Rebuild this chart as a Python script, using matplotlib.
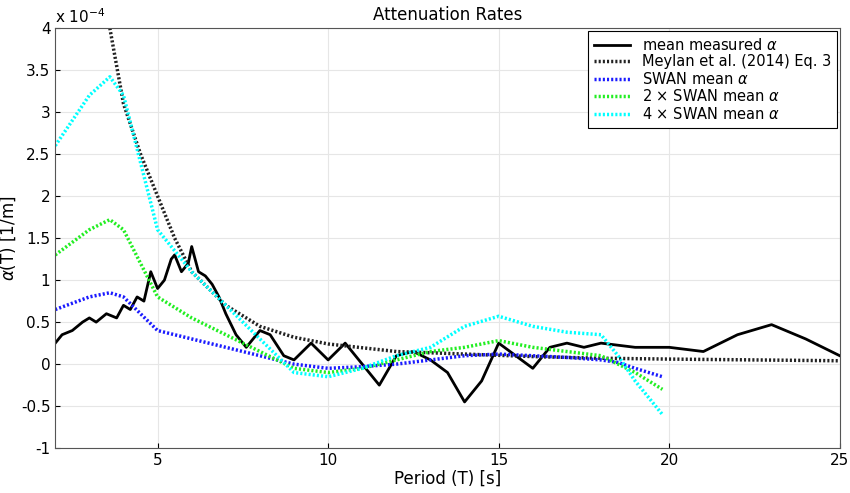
import matplotlib
matplotlib.use("Agg")
import matplotlib.pyplot as plt

# values in units of 1e-4 1/m
meas_T = [2, 2.2, 2.5, 2.8, 3, 3.2, 3.5, 3.8, 4, 4.2, 4.4, 4.6, 4.8, 5, 5.2, 5.4, 5.5, 5.7, 5.9, 6,
          6.2, 6.4, 6.6, 6.8, 7, 7.3, 7.6, 8, 8.3, 8.7, 9, 9.5, 10, 10.5, 11, 11.5, 12, 12.5, 13,
          13.5, 14, 14.5, 15, 15.5, 16, 16.5, 17, 17.5, 18, 19, 20, 21, 22, 23, 24, 25]
meas_a = [0.25, 0.35, 0.4, 0.5, 0.55, 0.5, 0.6, 0.55, 0.7, 0.65, 0.8, 0.75, 1.1, 0.9, 1.0, 1.25, 1.3,
          1.1, 1.2, 1.4, 1.1, 1.05, 0.95, 0.8, 0.6, 0.35, 0.2, 0.4, 0.35, 0.1, 0.05, 0.25, 0.05,
          0.25, 0.0, -0.25, 0.1, 0.15, 0.05, -0.1, -0.45, -0.2, 0.25, 0.1, -0.05, 0.2, 0.25, 0.2,
          0.25, 0.2, 0.2, 0.15, 0.35, 0.47, 0.3, 0.1]

mey_T = [3.6, 4, 4.5, 5, 5.5, 6, 7, 8, 9, 10, 12, 14, 16, 18, 20, 25]
mey_a = [4.0, 3.1, 2.5, 2.0, 1.5, 1.1, 0.7, 0.45, 0.32, 0.24, 0.15, 0.12, 0.09, 0.07, 0.06, 0.04]

swan_T = [2, 3, 3.6, 4, 4.5, 5, 6, 7, 8, 9, 10, 11, 12, 13, 14, 15, 16, 17, 18, 18.5, 19, 19.8]
swan1 = [0.65, 0.8, 0.85, 0.8, 0.6, 0.4, 0.3, 0.2, 0.1, 0.0, -0.05, -0.03, 0.0, 0.05, 0.1, 0.12,
         0.1, 0.08, 0.05, 0.02, -0.05, -0.15]
swan2 = [1.3, 1.6, 1.72, 1.6, 1.2, 0.8, 0.55, 0.35, 0.15, -0.05, -0.1, -0.05, 0.05, 0.15, 0.2,
         0.28, 0.2, 0.15, 0.1, 0.0, -0.1, -0.3]
swan4 = [2.6, 3.2, 3.42, 3.2, 2.4, 1.6, 1.1, 0.7, 0.3, -0.1, -0.15, -0.05, 0.1, 0.2, 0.45, 0.57,
         0.45, 0.38, 0.35, 0.1, -0.2, -0.6]

fig = plt.figure(figsize=(8.5, 4.93), dpi=100)
ax = fig.add_axes([0.065, 0.091, 0.923, 0.852])

dots = (0, (0.6, 0.6))
ax.plot(meas_T, meas_a, color='k', lw=2, label=r'mean measured $\alpha$')
ax.plot(mey_T, mey_a, color='#222222', lw=2.5, ls=dots, label='Meylan et al. (2014) Eq. 3')
ax.plot(swan_T, swan1, color='#1a1aff', lw=2.5, ls=dots, label=r'SWAN mean $\alpha$')
ax.plot(swan_T, swan2, color='#22ee22', lw=2.5, ls=dots, label=r'2 $\times$ SWAN mean $\alpha$')
ax.plot(swan_T, swan4, color='#00ffff', lw=2.5, ls=dots, label=r'4 $\times$ SWAN mean $\alpha$')

ax.set_xlim(2, 25)
ax.set_ylim(-1, 4)
ax.set_xticks([5, 10, 15, 20, 25])
ax.set_yticks([-1, -0.5, 0, 0.5, 1, 1.5, 2, 2.5, 3, 3.5, 4])
ax.set_yticklabels(['-1', '-0.5', '0', '0.5', '1', '1.5', '2', '2.5', '3', '3.5', '4'])
ax.grid(True, ls='-', color='#e6e6e6', lw=0.8)
ax.tick_params(direction='in', labelsize=11)
for s in ax.spines.values():
    s.set_color('#555555')
ax.text(0.0, 1.005, r'x 10$^{-4}$', transform=ax.transAxes, ha='left', va='bottom', fontsize=11)
ax.set_xlabel('Period (T) [s]', fontsize=12, labelpad=1)
ax.set_ylabel(r'$\alpha$(T) [1/m]', fontsize=12, labelpad=2)
ax.set_title('Attenuation Rates', fontsize=12, pad=6)

leg = ax.legend(loc='upper right', fontsize=10.5, fancybox=False, edgecolor='k',
                framealpha=1, handlelength=2.5, borderaxespad=0.2, labelspacing=0.1)
leg.get_frame().set_linewidth(0.8)

fig.savefig('out.png', dpi=100)
